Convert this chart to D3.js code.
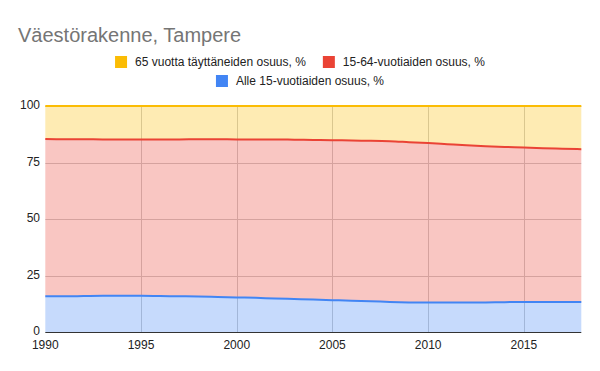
<html>
<head>
  <meta charset="utf-8">
  <script src="https://cdn.jsdelivr.net/npm/d3@7"></script>
  <style>
    body { margin: 0; background: #fff; }
    text { font-family: "Liberation Sans", Arial, sans-serif; }
  </style>
  <script>
    // vuosittaiset osuudet, luettu kuvasta
    var years = [1990, 1991, 1992, 1993, 1994, 1995, 1996, 1997, 1998, 1999,
      2000, 2001, 2002, 2003, 2004, 2005, 2006, 2007, 2008, 2009,
      2010, 2011, 2012, 2013, 2014, 2015, 2016, 2017, 2018];
    var alle15 = [15.8, 15.8, 15.9, 16.0, 16.0, 16.0, 15.9, 15.8, 15.7, 15.5,
      15.3, 15.1, 14.8, 14.6, 14.4, 14.1, 13.8, 13.6, 13.3, 13.1,
      13.0, 13.0, 13.0, 13.1, 13.2, 13.3, 13.3, 13.3, 13.3];
    var v15_64 = [69.6, 69.5, 69.4, 69.2, 69.2, 69.2, 69.3, 69.4, 69.6, 69.8,
      69.9, 70.1, 70.4, 70.5, 70.6, 70.8, 70.9, 71.0, 71.1, 70.9,
      70.6, 70.1, 69.6, 69.1, 68.7, 68.3, 68.0, 67.8, 67.6];
    var yli65 = [14.6, 14.7, 14.7, 14.8, 14.8, 14.8, 14.8, 14.8, 14.7, 14.7,
      14.8, 14.8, 14.8, 14.9, 15.0, 15.1, 15.3, 15.4, 15.6, 16.0,
      16.4, 16.9, 17.4, 17.8, 18.1, 18.4, 18.7, 18.9, 19.1];
    var xTicks = [1990, 1995, 2000, 2005, 2010, 2015];
    var yTicks = [0, 25, 50, 75, 100];

    var seriesNames = ["Alle 15-vuotiaiden osuus, %", "15-64-vuotiaiden osuus, %", "65 vuotta täyttäneiden osuus, %"];
    var seriesColors = ["#4285f4", "#ea4335", "#fbbc04"];

    window.onload = function () {
      var W = 600, H = 371;
      var svg = d3.select("body").append("svg").attr("width", W).attr("height", H);

      var x = d3.scaleLinear().domain([1990, 2018]).range([45.3, 581.3]);
      var y = d3.scaleLinear().domain([0, 100]).range([332, 106]);

      // title
      svg.append("text").attr("x", 18).attr("y", 42)
        .attr("font-size", 20).attr("fill", "#757575")
        .text("Väestörakenne, Tampere");

      // gridlines
      var grid = svg.append("g");
      grid.selectAll(".hg").data(yTicks.filter(function (d) { return d > 0; }))
        .enter().append("line")
        .attr("x1", x.range()[0]).attr("x2", x.range()[1])
        .attr("y1", function (d) { return Math.round(y(d)) + 0.5; })
        .attr("y2", function (d) { return Math.round(y(d)) + 0.5; })
        .attr("stroke", "#cccccc");
      grid.selectAll(".vg").data(xTicks.filter(function (d) { return d > 1990; }))
        .enter().append("line")
        .attr("y1", y(100)).attr("y2", y(0))
        .attr("x1", function (d) { return Math.round(x(d)) + 0.5; })
        .attr("x2", function (d) { return Math.round(x(d)) + 0.5; })
        .attr("stroke", "#cccccc");

      // stacked data
      var rows = years.map(function (yr, i) {
        return { year: yr, a: alle15[i], b: v15_64[i], c: yli65[i] };
      });
      var stack = d3.stack().keys(["a", "b", "c"]);
      var layers = stack(rows);

      var area = d3.area()
        .curve(d3.curveMonotoneX)
        .x(function (d) { return x(d.data.year); })
        .y0(function (d) { return y(d[0]); })
        .y1(function (d) { return y(d[1]); });
      var line = d3.line()
        .curve(d3.curveMonotoneX)
        .x(function (d) { return x(d.data.year); })
        .y(function (d) { return y(d[1]); });

      svg.append("g").selectAll("path").data(layers).enter().append("path")
        .attr("d", area)
        .attr("fill", function (d, i) { return seriesColors[i]; })
        .attr("fill-opacity", 0.3);

      svg.append("g").selectAll("path").data(layers).enter().append("path")
        .attr("d", line)
        .attr("fill", "none")
        .attr("stroke", function (d, i) { return seriesColors[i]; })
        .attr("stroke-width", 2);

      // baseline
      svg.append("line")
        .attr("x1", x.range()[0]).attr("x2", x.range()[1])
        .attr("y1", y(0) + 0.5).attr("y2", y(0) + 0.5)
        .attr("stroke", "#333333");

      // axis labels
      svg.append("g").selectAll("text").data(yTicks).enter().append("text")
        .attr("x", 40).attr("y", function (d) { return y(d) + 3; })
        .attr("text-anchor", "end").attr("font-size", 12).attr("fill", "#222")
        .text(function (d) { return d; });
      svg.append("g").selectAll("text").data(xTicks).enter().append("text")
        .attr("x", function (d) { return x(d); }).attr("y", 349)
        .attr("text-anchor", "middle").attr("font-size", 12).attr("fill", "#222")
        .text(function (d) { return d; });

      // legend: two rows, centred
      var legendRows = [[2, 1], [0]];
      var rowY = [62, 81];
      legendRows.forEach(function (row, r) {
        var g = svg.append("g");
        var cx = 0;
        row.forEach(function (si, k) {
          if (k > 0) cx += 17;
          g.append("rect").attr("x", cx).attr("y", rowY[r] - 6)
            .attr("width", 12).attr("height", 12)
            .attr("fill", seriesColors[si]);
          var t = g.append("text").attr("x", cx + 20).attr("y", rowY[r] + 4)
            .attr("font-size", 12).attr("fill", "#222")
            .text(seriesNames[si]);
          cx += 20 + t.node().getComputedTextLength();
        });
        g.attr("transform", "translate(" + (W / 2 - cx / 2) + ",0)");
      });
    };
  </script>
</head>
<body>
</body>
</html>
